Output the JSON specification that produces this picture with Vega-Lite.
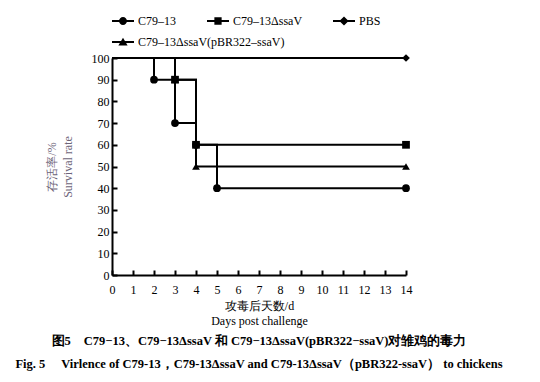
{
  "$schema": "https://vega.github.io/schema/vega-lite/v6.json",
  "width": 294,
  "height": 217,
  "padding": {"left": 15, "top": 10, "right": 5, "bottom": 5},
  "config": {
    "font": "Liberation Serif",
    "view": {"stroke": null},
    "axis": {"labelFont": "Liberation Serif", "titleFont": "Liberation Serif"},
    "legend": {"labelFont": "Liberation Serif"}
  },
  "title": {
    "text": "图5　C79−13、C79−13ΔssaV 和 C79−13ΔssaV(pBR322−ssaV)对雏鸡的毒力",
    "subtitle": "Fig. 5　 Virlence of C79-13，C79-13ΔssaV and C79-13ΔssaV（pBR322-ssaV） to chickens",
    "orient": "bottom",
    "anchor": "middle",
    "frame": "group",
    "font": "Liberation Serif",
    "fontSize": 12.5,
    "fontWeight": "bold",
    "color": "black",
    "subtitleFont": "Liberation Serif",
    "subtitleFontSize": 12.5,
    "subtitleFontWeight": "bold",
    "subtitleColor": "black",
    "offset": 9,
    "subtitlePadding": 10
  },
  "data": {
    "values": [
      {"series": "C79–13", "day": 0, "rate": 100},
      {"series": "C79–13", "day": 2, "rate": 90},
      {"series": "C79–13", "day": 3, "rate": 70},
      {"series": "C79–13", "day": 4, "rate": 60},
      {"series": "C79–13", "day": 5, "rate": 40},
      {"series": "C79–13", "day": 14, "rate": 40},
      {"series": "C79–13ΔssaV(pBR322–ssaV)", "day": 0, "rate": 100},
      {"series": "C79–13ΔssaV(pBR322–ssaV)", "day": 3, "rate": 90},
      {"series": "C79–13ΔssaV(pBR322–ssaV)", "day": 4, "rate": 50},
      {"series": "C79–13ΔssaV(pBR322–ssaV)", "day": 14, "rate": 50},
      {"series": "C79–13ΔssaV", "day": 0, "rate": 100},
      {"series": "C79–13ΔssaV", "day": 3, "rate": 90},
      {"series": "C79–13ΔssaV", "day": 4, "rate": 60},
      {"series": "C79–13ΔssaV", "day": 14, "rate": 60},
      {"series": "PBS", "day": 0, "rate": 100},
      {"series": "PBS", "day": 14, "rate": 100}
    ]
  },
  "encoding": {
    "x": {
      "field": "day",
      "type": "quantitative",
      "scale": {"domain": [0, 14], "nice": false, "zero": false},
      "axis": {
        "title": ["攻毒后天数/d", "Days post challenge"],
        "values": [0, 1, 2, 3, 4, 5, 6, 7, 8, 9, 10, 11, 12, 13, 14],
        "grid": false,
        "domainColor": "black",
        "domainWidth": 2,
        "tickColor": "black",
        "tickWidth": 2,
        "tickSize": -5,
        "labelFontSize": 12,
        "labelColor": "black",
        "labelPadding": 14,
        "labelAngle": 0,
        "labelFlush": false,
        "titleFontSize": 12,
        "titleFontWeight": "normal",
        "titleColor": "black",
        "titleLineHeight": 15,
        "titlePadding": 5
      }
    },
    "y": {
      "field": "rate",
      "type": "quantitative",
      "scale": {"domain": [0, 100], "nice": false},
      "axis": {
        "title": ["存活率/%", "Survival rate"],
        "values": [0, 10, 20, 30, 40, 50, 60, 70, 80, 90, 100],
        "grid": false,
        "domainColor": "black",
        "domainWidth": 2,
        "tickColor": "black",
        "tickWidth": 2,
        "tickSize": -5,
        "labelFontSize": 12,
        "labelColor": "black",
        "labelPadding": 8,
        "labelFlush": false,
        "titleFontSize": 12,
        "titleFontWeight": "normal",
        "titleColor": "#6d6478",
        "titleLineHeight": 16,
        "titlePadding": 17
      }
    }
  },
  "layer": [
    {
      "mark": {"type": "line", "interpolate": "step-after", "color": "black", "strokeWidth": 2},
      "encoding": {"detail": {"field": "series"}}
    },
    {
      "transform": [{"filter": "datum.day > 0"}],
      "mark": {"type": "point", "filled": true, "color": "black", "opacity": 1, "size": 60},
      "encoding": {
        "shape": {
          "field": "series",
          "type": "nominal",
          "scale": {
            "domain": ["C79–13", "C79–13ΔssaV", "PBS", "C79–13ΔssaV(pBR322–ssaV)"],
            "range": ["circle", "square", "diamond", "triangle-up"]
          },
          "legend": null
        }
      }
    },
    {
      "transform": [{"filter": "datum.series != 'C79–13ΔssaV(pBR322–ssaV)'"}],
      "mark": {"type": "point", "filled": true, "color": "black", "opacity": 0, "size": 60},
      "encoding": {
        "shape": {
          "field": "series",
          "type": "nominal",
          "scale": {
            "domain": ["C79–13", "C79–13ΔssaV", "PBS"],
            "range": [
              "M-1,-0.09H1V0.09H-1Z M0.36,0A0.36,0.36 0 1,1 -0.36,0A0.36,0.36 0 1,1 0.36,0Z",
              "M-1,-0.09H1V0.09H-1Z M-0.33,-0.33H0.33V0.33H-0.33Z",
              "M-1,-0.09H1V0.09H-1Z M0,-0.42L0.42,0L0,0.42L-0.42,0Z"
            ]
          },
          "legend": {
            "title": null,
            "orient": "none",
            "legendX": 0,
            "legendY": -48,
            "direction": "horizontal",
            "columns": 3,
            "gridAlign": "none",
            "symbolSize": 484,
            "symbolOpacity": 1,
            "symbolFillColor": "black",
            "symbolStrokeWidth": 0,
            "labelFont": "Liberation Serif",
            "labelFontSize": 12,
            "labelColor": "black",
            "labelOffset": 4,
            "columnPadding": 30,
            "labelLimit": 300
          }
        }
      }
    },
    {
      "transform": [{"filter": "datum.series == 'C79–13ΔssaV(pBR322–ssaV)'"}],
      "mark": {"type": "point", "filled": true, "color": "black", "opacity": 0, "size": 60},
      "encoding": {
        "shape": {
          "field": "series",
          "type": "nominal",
          "scale": {
            "domain": ["C79–13ΔssaV(pBR322–ssaV)"],
            "range": [
              "M-1,-0.09H1V0.09H-1Z M0,-0.38L0.42,0.32L-0.42,0.32Z"
            ]
          },
          "legend": {
            "title": null,
            "orient": "none",
            "legendX": 0,
            "legendY": -27,
            "direction": "horizontal",
            "symbolSize": 484,
            "symbolOpacity": 1,
            "symbolFillColor": "black",
            "symbolStrokeWidth": 0,
            "labelFont": "Liberation Serif",
            "labelFontSize": 12,
            "labelColor": "black",
            "labelOffset": 4,
            "labelLimit": 300
          }
        }
      }
    }
  ],
  "resolve": {"scale": {"shape": "independent"}}
}
